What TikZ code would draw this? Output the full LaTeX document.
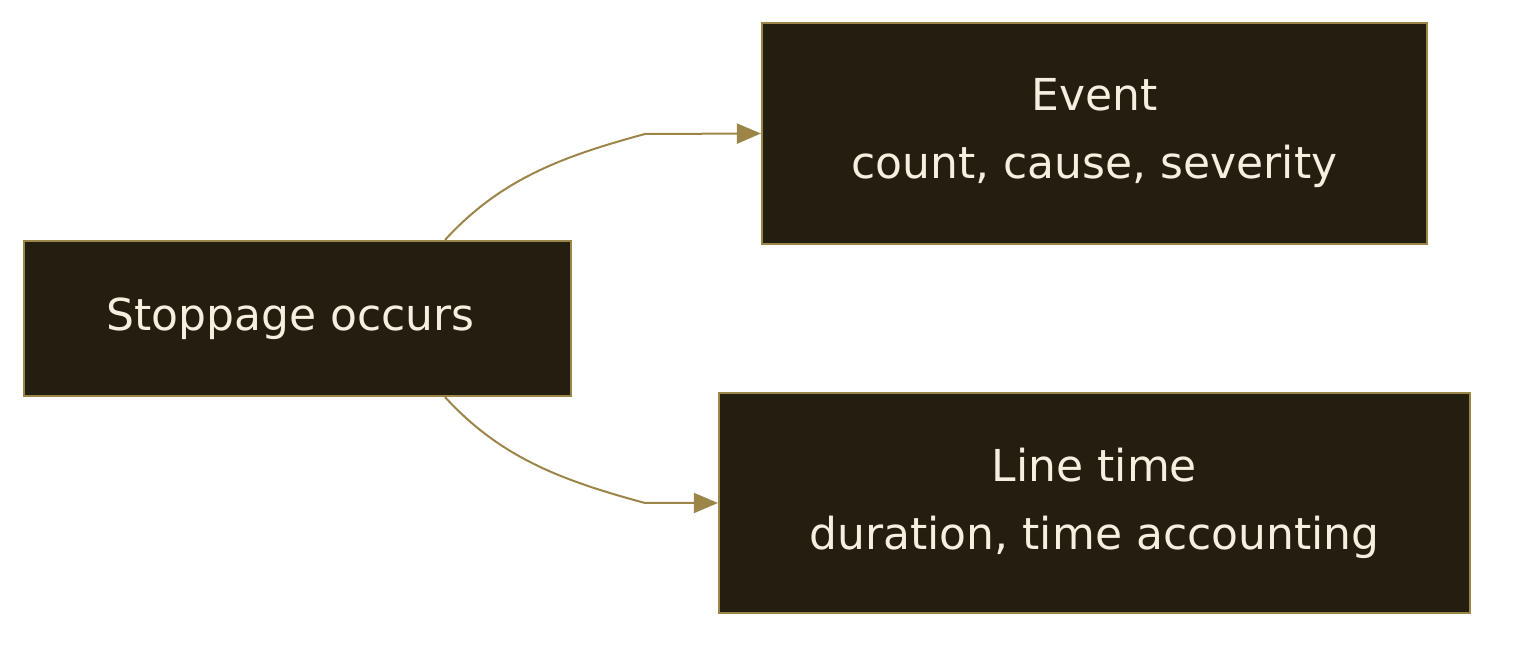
\documentclass[tikz,border=0pt]{standalone}
\usepackage{fontspec}
\setmainfont{DejaVu Sans}
\usetikzlibrary{arrows.meta}
\definecolor{boxfill}{HTML}{231E10}
\definecolor{boxline}{HTML}{9C8549}
\definecolor{boxtext}{HTML}{F5EFE0}
\tikzset{
  stage/.style={draw=boxline, line width=1.6pt, fill=boxfill, text=boxtext,
    align=center, inner sep=0pt,
    font=\fontsize{33}{51}\selectfont},
  flow/.style={draw=boxline, line width=1.5pt, -{Triangle[length=18pt,width=15pt]}}
}

\begin{document}
\begin{tikzpicture}[x=0.75pt,y=-0.75pt]
  \useasboundingbox (0,0) rectangle (1518,648);

  \node [stage, minimum width=547*0.75pt, minimum height=155*0.75pt] (stop) at (297.5,318.5) { Stoppage occurs };
  \node [stage, minimum width=665*0.75pt, minimum height=221*0.75pt] (event) at (1094.5,133.5) { Event\\count, cause, severity };
  \node [stage, minimum width=751*0.75pt, minimum height=220*0.75pt] (linetime) at (1094.5,503) { Line time\\duration, time accounting };

  \draw [flow] (stop.north -| 445,0) .. controls (500,180) and (560,157) .. (645,134) -- (event.west);
  \draw [flow] (stop.south -| 445,0) .. controls (500,457) and (560,480) .. (645,503) -- (linetime.west);
\end{tikzpicture}
\end{document}
